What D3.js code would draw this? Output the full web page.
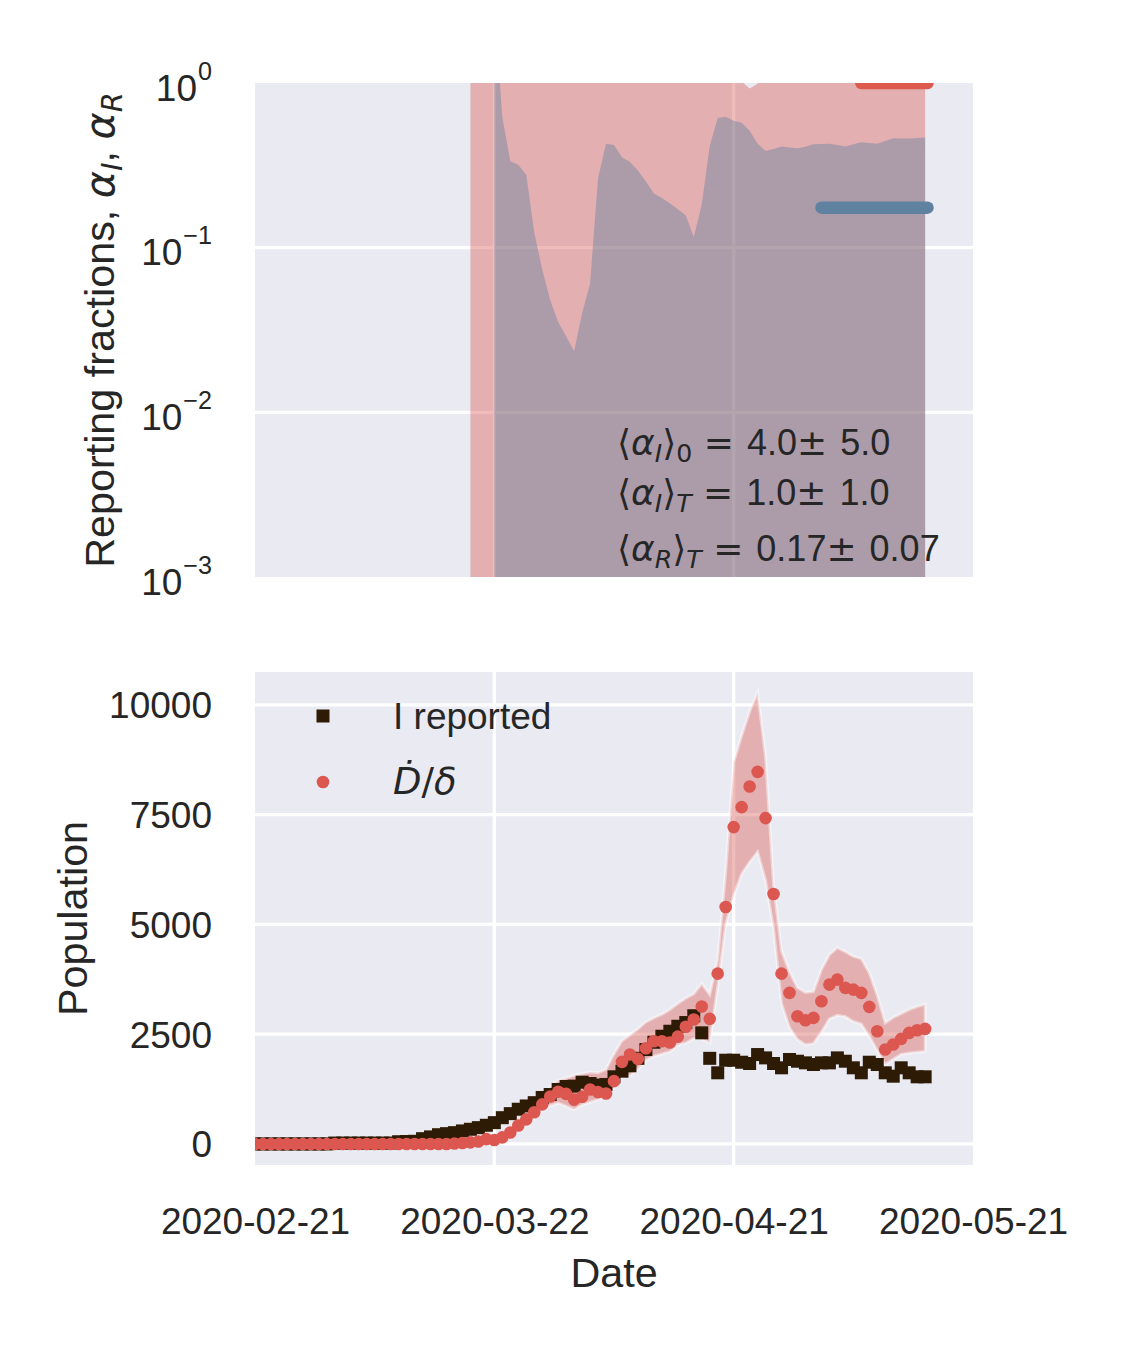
<!DOCTYPE html>
<html>
<head>
<meta charset="utf-8">
<script src="https://cdn.jsdelivr.net/npm/d3@7"></script>
<style>
  body { margin: 0; background: #fff; }
  text { font-family: "Liberation Sans", Arial, sans-serif; fill: #262626; white-space: pre; }
</style>
</head>
<body>
<svg id="chart" width="1125" height="1350"></svg>
<script>
// ---- data (one value per day, day 0 = 2020-02-21) ----
const startDate = "2020-02-21"
const xTickLabels = ["2020-02-21", "2020-03-22", "2020-04-21", "2020-05-21"]
const logTicks = [1e-3, 1e-2, 1e-1, 1]
const logTickExp = ["\u22123", "\u22122", "\u22121", "0"]
const popTicks = [0, 2500, 5000, 7500, 10000]

const iReported = [
  0,0,0,0,0,0,0,0,0,0,
  20,20,20,20,20,20,20,20,
  50,55,60,
  120,160,210,234,257,296,334,371,425,485,
  598,690,790,865,940,1058,1126,1240,1308,1316,
  1406,1376,1340,1354,1529,1657,1780,1950,2150,2316,
  2453,2567,2680,2765,2920,2530,1950,1620,1907,1907,
  1861,1832,2036,1960,1832,1734,1923,1884,1847,1809,
  1847,1847,1960,1884,1734,1620,1861,1809,1620,1543,
  1734,1620,1529,1529
]
const dDotDelta = [
  0,0,0,0,0,0,0,0,0,0,
  0,0,0,0,0,0,0,0,0,0,
  0,0,0,0,0,
  10,20,35,57,110,90,
  150,260,420,560,720,900,1080,1190,1140,1010,
  1074,1240,1180,1150,1430,1870,2036,1938,2180,2339,
  2339,2310,2445,2670,2833,3130,2849,3879,5397,7217,
  7672,8141,8475,7422,5693,3879,3440,2908,2817,2871,
  3249,3629,3743,3554,3515,3440,3122,2567,2150,2264,
  2394,2530,2589,2621
]
const dDotHigh = [
  0,0,0,0,0,0,0,0,0,0,
  0,0,0,0,0,0,0,0,0,0,
  0,0,0,0,0,
  25,35,50,75,130,120,
  190,310,480,650,850,1080,1300,1450,1500,1560,
  1600,1640,1620,1700,2050,2350,2480,2620,2780,2870,
  2950,3060,3200,3320,3420,3650,3400,4200,6200,8700,
  9300,9850,10280,8800,5900,4400,3920,3560,3450,3470,
  3970,4310,4470,4380,4270,4220,3900,3380,2760,2880,
  2970,3060,3130,3174
]
const dDotLow = [
  0,0,0,0,0,0,0,0,0,0,
  0,0,0,0,0,0,0,0,0,0,
  0,0,0,0,0,
  0,8,20,40,90,60,
  110,210,360,470,600,760,870,930,860,780,
  890,950,1010,1080,1300,1560,1560,1700,1900,2000,
  2050,2100,2250,2300,2400,2400,2300,3590,5000,5650,
  6150,6420,6650,6000,4900,3200,2650,2378,2260,2290,
  2550,2850,2930,2900,2790,2730,2450,2130,1810,1930,
  2040,2070,2090,2110
]

// reporting fraction bands (top panel); values past the axis are rough
const alphaIFirstDay = 27
const alphaIHigh = [
  3,3,3,3,3,3,3,3,3,3,3,3,3,3,3,3,3,3,3,3,3,3,3,3,3,3,3,3,3,3,3,3,3,3,
  1.02,0.925,0.99,
  3,3,3,3,3,3,3,3,3,3,3,3,3,3,3,3,3,3,3,3,3
]
const alphaILow = [
  1e-4,1e-4,1e-4,1e-4,1e-4,1e-4,1e-4,1e-4,1e-4,1e-4,1e-4,1e-4,1e-4,1e-4,1e-4,
  1e-4,1e-4,1e-4,1e-4,1e-4,1e-4,1e-4,1e-4,1e-4,1e-4,1e-4,1e-4,1e-4,1e-4,1e-4,
  1e-4,1e-4,1e-4,1e-4,1e-4,1e-4,1e-4,1e-4,1e-4,1e-4,1e-4,1e-4,1e-4,1e-4,1e-4,
  1e-4,1e-4,1e-4,1e-4,1e-4,1e-4,1e-4,1e-4,1e-4,1e-4,1e-4,1e-4,1e-4
]
const alphaRFirstDay = 30
const alphaRHigh = [
  3,0.62,0.335,0.319,0.277,0.124,0.0736,0.0481,0.0354,0.029,
  0.0235,0.040,0.0604,0.264,0.428,0.42,0.354,0.331,0.294,0.252,
  0.213,0.2,0.186,0.171,0.157,0.116,0.183,0.414,0.613,0.624,
  0.59,0.574,0.512,0.428,0.386,0.397,0.412,0.406,0.401,0.41,
  0.424,0.426,0.428,0.42,0.412,0.424,0.436,0.432,0.428,0.445,
  0.462,0.461,0.46,0.463,0.466
]
const alphaRLow = [
  1e-4,1e-4,1e-4,1e-4,1e-4,1e-4,1e-4,1e-4,1e-4,1e-4,1e-4,
  1e-4,1e-4,1e-4,1e-4,1e-4,1e-4,1e-4,1e-4,1e-4,1e-4,1e-4,
  1e-4,1e-4,1e-4,1e-4,1e-4,1e-4,1e-4,1e-4,1e-4,1e-4,1e-4,
  1e-4,1e-4,1e-4,1e-4,1e-4,1e-4,1e-4,1e-4,1e-4,1e-4,1e-4,
  1e-4,1e-4,1e-4,1e-4,1e-4,1e-4,1e-4,1e-4,1e-4,1e-4,1e-4
]
const alphaIMeanDays = [76, 84.3]
const alphaIMean = 1.0
const alphaRMeanDays = [71, 84.3]
const alphaRMean = 0.175

// ---- setup ----
const parseDay = d3.utcParse("%Y-%m-%d")
const day0 = parseDay(startDate)
const dateOf = i => new Date(+day0 + i * 864e5)

const bg = "#eaeaf2", red = "#d9584f", dotRed = "#dc5750", blue = "#5f82a0", brown = "#2e1b06"
const tickSize = 37, labelSize = 41.3

const svg = d3.select("#chart")

const panelTop = {x0: 255, x1: 973, y0: 83, y1: 577}
const panelBot = {x0: 255, x1: 973, y0: 672, y1: 1165}

const x = d3.scaleUtc()
  .domain([parseDay(xTickLabels[0]), parseDay(xTickLabels[3])])
  .range([panelTop.x0, panelTop.x1])
const yTop = d3.scaleLog().domain([1e-3, 1]).range([panelTop.y1, panelTop.y0])
const yBot = d3.scaleLinear().domain([-480, 10750]).range([panelBot.y1, panelBot.y0])

const defs = svg.append("defs")
defs.append("clipPath").attr("id", "clipTop").append("rect")
  .attr("x", panelTop.x0).attr("y", panelTop.y0)
  .attr("width", panelTop.x1 - panelTop.x0).attr("height", panelTop.y1 - panelTop.y0)
defs.append("clipPath").attr("id", "clipBot").append("rect")
  .attr("x", panelBot.x0).attr("y", panelBot.y0)
  .attr("width", panelBot.x1 - panelBot.x0).attr("height", panelBot.y1 - panelBot.y0)

// backgrounds
svg.append("rect").attr("x", panelTop.x0).attr("y", panelTop.y0)
  .attr("width", panelTop.x1 - panelTop.x0).attr("height", panelTop.y1 - panelTop.y0).attr("fill", bg)
svg.append("rect").attr("x", panelBot.x0).attr("y", panelBot.y0)
  .attr("width", panelBot.x1 - panelBot.x0).attr("height", panelBot.y1 - panelBot.y0).attr("fill", bg)

const xTickDates = xTickLabels.map(parseDay)

// grid
const gridTop = svg.append("g").attr("clip-path", "url(#clipTop)")
  .attr("stroke", "#fff").attr("stroke-width", 3.3)
gridTop.selectAll(".v").data(xTickDates.slice(1, 3)).enter().append("line")
  .attr("x1", d => x(d)).attr("x2", d => x(d)).attr("y1", panelTop.y0).attr("y2", panelTop.y1)
gridTop.selectAll(".h").data(logTicks.slice(1, 3)).enter().append("line")
  .attr("x1", panelTop.x0).attr("x2", panelTop.x1).attr("y1", d => yTop(d)).attr("y2", d => yTop(d))

const gridBot = svg.append("g").attr("clip-path", "url(#clipBot)")
  .attr("stroke", "#fff").attr("stroke-width", 3.3)
gridBot.selectAll(".v").data(xTickDates.slice(1, 3)).enter().append("line")
  .attr("x1", d => x(d)).attr("x2", d => x(d)).attr("y1", panelBot.y0).attr("y2", panelBot.y1)
gridBot.selectAll(".h").data(popTicks).enter().append("line")
  .attr("x1", panelBot.x0).attr("x2", panelBot.x1).attr("y1", d => yBot(d)).attr("y2", d => yBot(d))

// ---- top panel ----
const gTop = svg.append("g").attr("clip-path", "url(#clipTop)")

const bandTop = (first) => d3.area()
  .x((d, i) => x(dateOf(first + i)))
  .y0(d => yTop(d[0]))
  .y1(d => yTop(d[1]))

gTop.append("path")
  .attr("d", bandTop(alphaIFirstDay)(alphaILow.map((v, i) => [v, alphaIHigh[i]])))
  .attr("fill", red).attr("fill-opacity", 0.4)
gTop.append("path")
  .attr("d", bandTop(alphaRFirstDay)(alphaRLow.map((v, i) => [v, alphaRHigh[i]])))
  .attr("fill", blue).attr("fill-opacity", 0.42)

const meanLine = d3.line().x(d => x(dateOf(d[0]))).y(d => yTop(d[1]))
gTop.append("path")
  .attr("d", meanLine(alphaRMeanDays.map(d => [d, alphaRMean])))
  .attr("stroke", blue).attr("stroke-width", 12.5).attr("stroke-linecap", "round").attr("fill", "none")
gTop.append("path")
  .attr("d", meanLine(alphaIMeanDays.map(d => [d, alphaIMean])))
  .attr("stroke", "#dc5a4e").attr("stroke-width", 12.5).attr("stroke-linecap", "round").attr("fill", "none")

// ---- bottom panel ----
const gBot = svg.append("g").attr("clip-path", "url(#clipBot)")
gBot.append("path")
  .attr("d", d3.area()
    .x((d, i) => x(dateOf(i)))
    .y0((d, i) => yBot(dDotLow[i]))
    .y1(d => yBot(d))(dDotHigh))
  .attr("fill", red).attr("fill-opacity", 0.4)
  .attr("stroke", "#fff").attr("stroke-opacity", 0.45).attr("stroke-width", 3)

gBot.selectAll(".sq").data(iReported).enter().append("rect")
  .attr("x", (d, i) => x(dateOf(i)) - 6.5).attr("y", d => yBot(d) - 6.5)
  .attr("width", 13).attr("height", 13).attr("fill", brown)
gBot.selectAll(".dot").data(dDotDelta).enter().append("circle")
  .attr("cx", (d, i) => x(dateOf(i))).attr("cy", d => yBot(d))
  .attr("r", 6.3).attr("fill", dotRed)

// ---- axes ----
const fmt = d3.utcFormat("%Y-%m-%d")
const xAxis = svg.append("g").attr("transform", `translate(0,${panelBot.y1})`)
  .call(d3.axisBottom(x).tickValues(xTickDates).tickFormat(fmt).tickSize(0))
xAxis.select(".domain").remove()
xAxis.selectAll("text").attr("y", 69).attr("dy", null)
  .attr("font-size", tickSize).attr("font-family", "Liberation Sans, Arial, sans-serif").attr("fill", "#262626")

const yAxisBot = svg.append("g").attr("transform", `translate(${panelBot.x0},0)`)
  .call(d3.axisLeft(yBot).tickValues(popTicks).tickFormat(d3.format("d")).tickSize(0))
yAxisBot.select(".domain").remove()
yAxisBot.selectAll("text").attr("x", -43).attr("dy", "0.35em")
  .attr("font-size", tickSize).attr("font-family", "Liberation Sans, Arial, sans-serif").attr("fill", "#262626")

const yAxisTop = svg.append("g").attr("transform", `translate(${panelTop.x0},0)`)
  .call(d3.axisLeft(yTop).tickValues(logTicks).tickFormat("").tickSize(0))
yAxisTop.select(".domain").remove()
yAxisTop.selectAll(".tick text").remove()
yAxisTop.selectAll(".tick").each(function (d) {
  const t = d3.select(this).append("text")
    .attr("x", -43).attr("y", 17).attr("text-anchor", "end")
    .attr("font-size", tickSize).attr("font-family", "Liberation Sans, Arial, sans-serif").attr("fill", "#262626")
  t.append("tspan").text("10")
  t.append("tspan").text(logTickExp[logTicks.indexOf(d)])
    .attr("dy", -21).attr("dx", 1).attr("font-size", tickSize * 0.68)
})

// text with sub-scripted math pieces
function mathText(sel, size, parts) {
  let cur = 0
  parts.forEach(p => {
    const off = p.sub ? size * 0.2 : 0
    const s = sel.append("tspan").text(p.t)
    if (off !== cur) s.attr("dy", off - cur)
    cur = off
    if (p.dx) s.attr("dx", p.dx)
    if (p.sub) s.attr("font-size", size * 0.7)
    if (p.it) s.attr("font-style", "italic")
    if (p.m) s.attr("font-family", "DejaVu Sans")
  })
  return sel
}

// axis labels
mathText(svg.append("text")
  .attr("transform", `translate(114,${(panelTop.y0 + panelTop.y1) / 2}) rotate(-90)`)
  .attr("text-anchor", "middle").attr("font-size", labelSize), labelSize, [
  {t: "Reporting fractions, "}, {t: "\u03b1", m: 1, it: 1}, {t: "I", m: 1, it: 1, sub: 1},
  {t: ", "}, {t: "\u03b1", m: 1, it: 1}, {t: "R", m: 1, it: 1, sub: 1}
])
svg.append("text")
  .attr("transform", `translate(87,${(panelBot.y0 + panelBot.y1) / 2}) rotate(-90)`)
  .attr("text-anchor", "middle").attr("font-size", labelSize).text("Population")
svg.append("text").attr("x", (panelBot.x0 + panelBot.x1) / 2).attr("y", 1287)
  .attr("text-anchor", "middle").attr("font-size", labelSize).text("Date")

// annotation
const annSize = 36
const annLines = [
  {y: 455, sub1: "I", sub2: "0", val: "4.0", err: "5.0"},
  {y: 505, sub1: "I", sub2: "T", val: "1.0", err: "1.0"},
  {y: 561, sub1: "R", sub2: "T", val: "0.17", err: "0.07"}
]
annLines.forEach(l => {
  mathText(svg.append("text").attr("x", 617).attr("y", l.y).attr("font-size", annSize), annSize, [
    {t: "\u27e8", m: 1}, {t: "\u03b1", m: 1, it: 1}, {t: l.sub1, m: 1, it: 1, sub: 1},
    {t: "\u27e9", m: 1}, {t: l.sub2, m: 1, it: l.sub2 === "T", sub: 1},
    {t: " =", m: 1}, {t: " " + l.val, dx: 3}, {t: "\u00b1", m: 1}, {t: " " + l.err, dx: 3}
  ])
})

// legend
const leg = svg.append("g")
leg.append("rect").attr("x", 323 - 6.5).attr("y", 716 - 6.5).attr("width", 13).attr("height", 13).attr("fill", brown)
leg.append("text").attr("x", 393).attr("y", 729).attr("font-size", tickSize).text("I reported")
leg.append("circle").attr("cx", 323).attr("cy", 782).attr("r", 6.3).attr("fill", dotRed)
mathText(leg.append("text").attr("x", 393).attr("y", 794).attr("font-size", tickSize), tickSize, [
  {t: "\u1e0a", m: 1, it: 1}, {t: "/", m: 1}, {t: "\u03b4", m: 1, it: 1}
])
</script>
</body>
</html>
